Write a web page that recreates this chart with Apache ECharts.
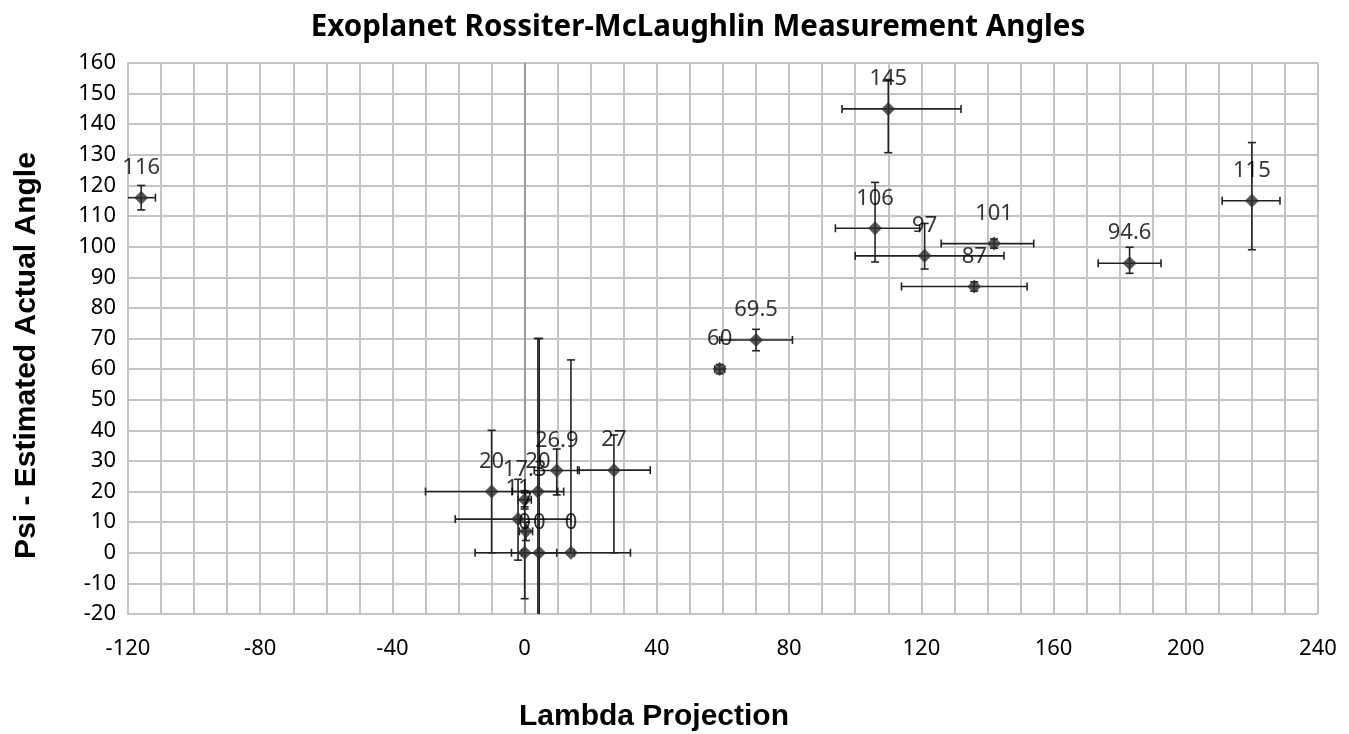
<!DOCTYPE html>
<html lang="en">
<head>
    <meta charset="utf-8"/>
    <script src="https://cdn.jsdelivr.net/npm/echarts@6/dist/echarts.min.js"></script>
    <title>Exoplanet Rossiter-McLaughlin Measurement Angles</title>
    <style>
        html, body { margin: 0; padding: 0; background: #fff; }
        #main { width: 1349px; height: 734px; }
    </style>
</head>
<body>
<div id="main"></div>
<script type="text/javascript">

    // lambda projection (x) and psi (y) of each planet
    var lambda = [-116, 110, 106, 121, 142, 136, 70, 59, 183, 220, -10, 4, 9.7, 27, 14, 4.4, 0, 0.4, -2, 0];
    var psi    = [116, 145, 106, 97, 101, 87, 69.5, 60, 94.6, 115, 20, 20, 26.9, 27, 0, 0, 0, 7, 11, 17.3];

    // error bar extents (minus / plus)
    var xErrMinus = [4.3, 14, 12, 21, 16, 22, 11, 1.5, 9.5, 9, 20, 7.8, 6.8, 11, 18, 5.3, 15, 2, 19, 2];
    var xErrPlus  = [4.3, 22, 13.5, 24, 12, 16, 11, 1.5, 9.5, 8.5, 20, 7.8, 6.8, 11, 18, 5.3, 15, 2, 16, 2];
    var yErrMinus = [4, 14.3, 11, 4.3, 1.5, 1.5, 3.5, 1.5, 3.3, 16, 20, 50, 8, 27, 0, 70, 15, 3, 13.4, 3];
    var yErrPlus  = [4, 9.6, 15, 10.6, 1.5, 1.5, 3.5, 1.5, 5.2, 19, 20, 50, 7, 11.5, 63, 70, 15, 3, 13, 3];

    var xTicks = {min: -120, max: 240, interval: 40};
    var yTicks = {min: -20, max: 160, interval: 10};

    var points = [];
    var errData = [];
    for (var i = 0; i < lambda.length; i++) {
        points.push([lambda[i], psi[i]]);
        errData.push([lambda[i], psi[i], xErrMinus[i], xErrPlus[i], yErrMinus[i], yErrPlus[i]]);
    }

    var gridColor = '#c4c4c4';
    var barColor = '#222';

    function renderErr(params, api) {
        var x = api.value(0), y = api.value(1);
        var c = api.coord([x, y]);
        var l = api.coord([x - api.value(2), y]);
        var r = api.coord([x + api.value(3), y]);
        var b = api.coord([x, y - api.value(4)]);
        var t = api.coord([x, y + api.value(5)]);
        var cap = 4;
        var st = {stroke: barColor, lineWidth: 1.6};
        var kids = [];
        function seg(x1, y1, x2, y2) {
            kids.push({type: 'line', shape: {x1: x1, y1: y1, x2: x2, y2: y2}, style: st});
        }
        if (api.value(2) > 0 || api.value(3) > 0) {
            seg(l[0], c[1], r[0], c[1]);
            if (api.value(2) > 0) seg(l[0], c[1] - cap, l[0], c[1] + cap);
            if (api.value(3) > 0) seg(r[0], c[1] - cap, r[0], c[1] + cap);
        }
        if (api.value(4) > 0 || api.value(5) > 0) {
            seg(c[0], b[1], c[0], t[1]);
            if (api.value(4) > 0) seg(c[0] - cap, b[1], c[0] + cap, b[1]);
            if (api.value(5) > 0) seg(c[0] - cap, t[1], c[0] + cap, t[1]);
        }
        return {type: 'group', children: kids};
    }

    var myChart = echarts.init(document.getElementById('main'));

    var option = {
        backgroundColor: '#fff',
        animation: false,
        title: {
            text: 'Exoplanet Rossiter-McLaughlin Measurement Angles',
            left: 693,
            textAlign: 'center',
            top: 8,
            textStyle: {fontFamily: 'Noto Sans', fontWeight: 'bold', fontSize: 29.5, color: '#000'}
        },
        grid: {left: 128, top: 63, right: 31, bottom: 120, outerBoundsMode: 'none'},
        xAxis: {
            type: 'value',
            min: xTicks.min,
            max: xTicks.max,
            interval: xTicks.interval,
            name: 'Lambda Projection',
            nameLocation: 'middle',
            nameGap: 88,
            nameTextStyle: {
                fontFamily: 'Liberation Sans', fontWeight: 'bold', fontSize: 30, color: '#000',
                padding: [0, 138, 0, 0]
            },
            axisLine: {show: true, lineStyle: {color: gridColor, width: 2}},
            axisTick: {show: false},
            axisLabel: {fontFamily: 'Noto Sans', fontSize: 22, color: '#000', margin: 24},
            splitLine: {show: true, lineStyle: {color: gridColor, width: 2}},
            minorTick: {show: false, splitNumber: 4},
            minorSplitLine: {show: true, lineStyle: {color: gridColor, width: 2}}
        },
        yAxis: {
            type: 'value',
            min: yTicks.min,
            max: yTicks.max,
            interval: yTicks.interval,
            name: 'Psi - Estimated Actual Angle',
            nameLocation: 'middle',
            nameGap: 86,
            nameTextStyle: {
                fontFamily: 'Liberation Sans', fontWeight: 'bold', fontSize: 30, color: '#000',
                padding: [0, 34, 0, 0]
            },
            axisLine: {show: true, onZero: false, lineStyle: {color: gridColor, width: 2}},
            axisTick: {show: false},
            axisLabel: {fontFamily: 'Noto Sans', fontSize: 22, color: '#000', margin: 12},
            splitLine: {show: true, lineStyle: {color: gridColor, width: 2}}
        },
        series: [
            {
                type: 'custom',
                name: 'errors',
                renderItem: renderErr,
                clip: true,
                data: errData,
                z: 3,
                silent: true
            },
            {
                type: 'scatter',
                name: 'angles',
                symbol: 'diamond',
                symbolSize: 14,
                data: points,
                z: 4,
                itemStyle: {color: '#2e2e2e'},
                label: {
                    show: true,
                    position: 'top',
                    distance: 12,
                    fontFamily: 'Noto Sans',
                    fontSize: 22,
                    color: '#000',
                    formatter: function (p) { return String(p.value[1]); }
                },
                markLine: {
                    silent: true,
                    symbol: 'none',
                    label: {show: false},
                    lineStyle: {color: '#8c8c8c', width: 1.5, type: 'solid'},
                    data: [{xAxis: 0}],
                    z: 2
                }
            }
        ]
    };
    myChart.setOption(option);

</script>
</body>
</html>
